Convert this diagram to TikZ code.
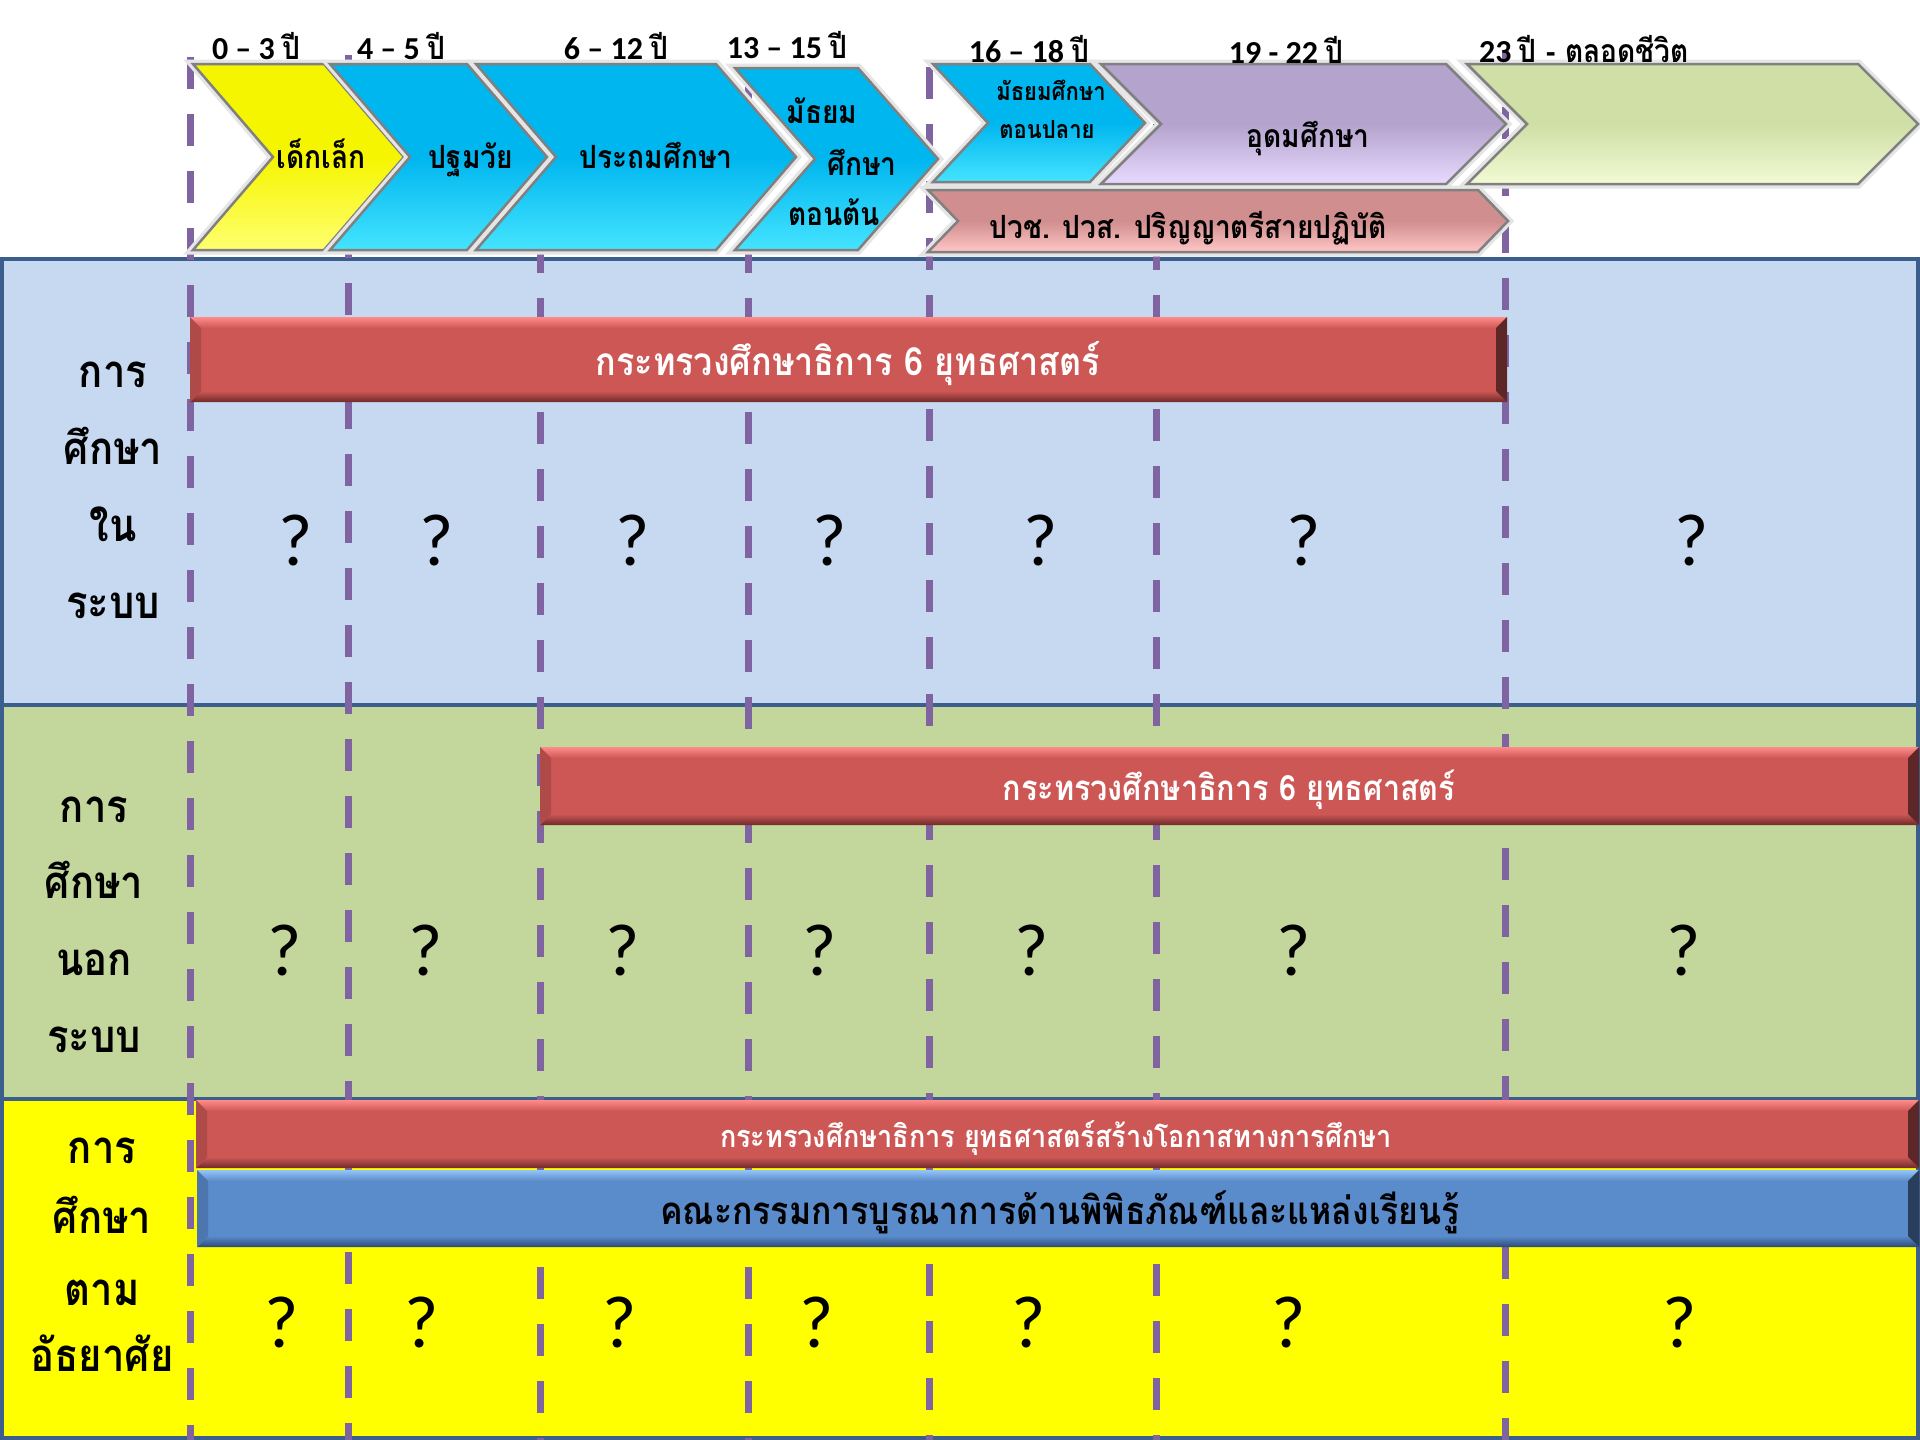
\documentclass[tikz,border=0pt]{standalone}
\usepackage{fontspec}
\setmainfont{Carlito}
\newfontfamily\thai[Script=Thai, FakeStretch=0.88]{Loma}
\definecolor{bandblue}{HTML}{C6D9F1}
\definecolor{bandgreen}{HTML}{C3D69B}
\definecolor{bandyellow}{HTML}{FFFF00}
\definecolor{bandline}{HTML}{3B5E8C}
\definecolor{dashpurple}{HTML}{8064A2}
\definecolor{redbase}{HTML}{CD5755}
\definecolor{redlight}{HTML}{FF8C8A}
\definecolor{reddark}{HTML}{6E2A28}
\definecolor{bluebase}{HTML}{5A8BCB}
\definecolor{bluelight}{HTML}{94C4F7}
\definecolor{bluedark}{HTML}{2A4A78}
\definecolor{cyanbase}{HTML}{00B6EF}
\definecolor{cyanlight}{HTML}{45E4FF}
\definecolor{yelbase}{HTML}{F5F500}
\definecolor{yellight}{HTML}{FFFF70}
\definecolor{purpbase}{HTML}{B4A3CD}
\definecolor{purplight}{HTML}{E8DAFF}
\definecolor{grnbase}{HTML}{CFDFA6}
\definecolor{grnlight}{HTML}{F2FAD4}
\definecolor{pinktop}{HTML}{D18E8E}
\definecolor{pinkbot}{HTML}{FFC6C6}
\newcommand\mybar[7]{%
  \fill[#5] (#1,#2) rectangle (#3,#4);
  \shade[top color=#6, bottom color=#5] (#1,#2) -- (#3,#2) -- ({#3-11},{#2+11}) -- ({#1+11},{#2+11}) -- cycle;
  \shade[top color=#5, bottom color=#7] ({#1+11},{#4-11}) -- ({#3-11},{#4-11}) -- (#3,#4) -- (#1,#4) -- cycle;
  \fill[#5!85!black] (#1,#2) -- ({#1+11},{#2+11}) -- ({#1+11},{#4-11}) -- (#1,#4) -- cycle;
  \fill[#5!45!black] (#3,#2) -- ({#3-11},{#2+11}) -- ({#3-11},{#4-11}) -- (#3,#4) -- cycle;
}
\newcommand\mychev[8]{%
  \coordinate (#1-a) at (#2,#3);
  \coordinate (#1-b) at ({#2+#4},#3);
  \coordinate (#1-c) at ({#2+#4+#6},{#3+#5/2});
  \coordinate (#1-d) at ({#2+#4},{#3+#5});
  \coordinate (#1-e) at (#2,{#3+#5});
  \coordinate (#1-f) at ({#2+#6},{#3+#5/2});
  \draw[line width=9pt, draw=black!10, line join=miter] (#1-a)--(#1-b)--(#1-c)--(#1-d)--(#1-e)--(#1-f)--cycle;
  \shade[top color=#7, bottom color=#8, middle color=#7] (#1-a)--(#1-b)--(#1-c)--(#1-d)--(#1-e)--(#1-f)--cycle;
  \draw[line width=2.5pt, draw=black!50, line join=miter] (#1-a)--(#1-b)--(#1-c)--(#1-d)--(#1-e)--(#1-f)--cycle;
}
\tikzset{
  band/.style={draw=bandline, line width=4pt},
  dashln/.style={draw=dashpurple, line width=7pt, dash pattern=on 32pt off 25pt},
  lab/.style={font=\thai\bfseries\fontsize{45.5}{50}\selectfont, anchor=base, inner sep=0pt},
  qm/.style={font=\fontsize{74}{80}\selectfont, anchor=base, inner sep=0pt},
  age/.style={font=\bfseries\fontsize{32}{38}\selectfont, anchor=base, inner sep=0pt},
  chtxt/.style={font=\thai\bfseries\fontsize{32}{36}\selectfont, anchor=base, inner sep=0pt},
  chsmall/.style={font=\thai\bfseries\fontsize{25}{28}\selectfont, anchor=base, inner sep=0pt},
  bartxt/.style={font=\thai\bfseries\fontsize{#1}{#1}\selectfont, anchor=base, inner sep=0pt},
}
\begin{document}
\begin{tikzpicture}[x=1pt,y=-1pt]
\useasboundingbox (0,0) rectangle (1920,1440);
\fill[white] (0,0) rectangle (1920,1440);
% bands
\draw[band, fill=bandblue] (2,259) rectangle (1918,705);
\draw[band, fill=bandgreen] (2,705) rectangle (1918,1099);
\draw[band, fill=bandyellow] (2,1099) rectangle (1918,1438);
% dashed age lines
\foreach \x/\s in {190/57,348/55,540/70,748/70,929/67,1156/67,1505/50}
  \draw[dashln] (\x,\s) -- (\x,1440);
% bars
\mybar{190}{317}{1507}{402}{redbase}{redlight}{reddark}
\mybar{540}{747}{1919}{825}{redbase}{redlight}{reddark}
\mybar{196}{1100}{1919}{1168}{redbase}{redlight}{reddark}
\mybar{197}{1170}{1919}{1247}{bluebase}{bluelight}{bluedark}
% chevrons
\mychev{c1}{193}{64}{131}{186}{80}{yelbase}{yellight}
\mychev{c2}{330}{64}{137}{186}{80}{cyanbase}{cyanlight}
\mychev{c3}{476}{64}{240}{186}{80}{cyanbase}{cyanlight}
\mychev{c4}{735}{68}{123}{182}{80}{cyanbase}{cyanlight}
\mychev{c5}{933}{64}{157}{118}{55}{cyanbase}{cyanlight}
\mychev{c6}{1101}{64}{345}{120}{60}{purpbase}{purplight}
\mychev{c7}{1467}{64}{391}{120}{60}{grnbase}{grnlight}
\mychev{c8}{928}{190}{550}{62}{30}{pinktop}{pinkbot}
% age labels
\node[age] (a1) at (256,59) {0 – 3 {\thai ปี}};
\node[age] (a2) at (401,59) {4 – 5 {\thai ปี}};
\node[age] (a3) at (616,59) {6 – 12 {\thai ปี}};
\node[age] (a4) at (787,58) {13 – 15 {\thai ปี}};
\node[age] (a5) at (1029,62) {16 – 18 {\thai ปี}};
\node[age] (a6) at (1286,63) {19 - 22 {\thai ปี}};
\node[age] (a7) at (1584,62) {23 {\thai ปี - ตลอดชีวิต}};
% chevron texts
\node[chtxt] (t1) at (321,168) {เด็กเล็ก};
\node[chtxt] (t2) at (471,168) {ปฐมวัย};
\node[chtxt] (t3) at (656,168) {ประถมศึกษา};
\node[chtxt] (t4a) at (822,123) {มัธยม};
\node[chtxt] (t4b) at (862,175) {ศึกษา};
\node[chtxt] (t4c) at (834,225) {ตอนต้น};
\node[chsmall] (t5a) at (1051,100) {มัธยมศึกษา};
\node[chsmall] (t5b) at (1047,138) {ตอนปลาย};
\node[chtxt] (t6) at (1308,147) {อุดมศึกษา};
\node[chtxt] (t8) at (1188,238) {ปวช. ปวส. ปริญญาตรีสายปฏิบัติ};
% bar texts
\node[bartxt=38.8, text=white] (b1) at (848,375) {กระทรวงศึกษาธิการ 6 ยุทธศาสตร์};
\node[bartxt=34.8, text=white] (b2) at (1229,800) {กระทรวงศึกษาธิการ 6 ยุทธศาสตร์};
\node[bartxt=30.7, text=white] (b3) at (1056,1147) {กระทรวงศึกษาธิการ ยุทธศาสตร์สร้างโอกาสทางการศึกษา};
\node[bartxt=38.4, text=black] (b4) at (1060,1224) {คณะกรรมการบูรณาการด้านพิพิธภัณฑ์และแหล่งเรียนรู้};
% left labels
\node[lab] (l1a) at (113,387) {การ};
\node[lab] (l1b) at (113,464) {ศึกษา};
\node[lab] (l1c) at (113,541) {ใน};
\node[lab] (l1d) at (113,618) {ระบบ};
\node[lab] (l2a) at (94,822) {การ};
\node[lab] (l2b) at (94,898) {ศึกษา};
\node[lab] (l2c) at (94,975) {นอก};
\node[lab] (l2d) at (94,1052) {ระบบ};
\node[lab] (l3a) at (102,1163) {การ};
\node[lab] (l3b) at (102,1233) {ศึกษา};
\node[lab] (l3c) at (102,1305) {ตาม};
\node[lab] (l3d) at (102,1371) {อัธยาศัย};
% question marks
\foreach \x [count=\i] in {296,437,633,830,1041,1304,1692}
  \node[qm] (qa\i) at (\x,565) {?};
\foreach \x [count=\i] in {285,426,623,820,1032,1294,1684}
  \node[qm] (qb\i) at (\x,975) {?};
\foreach \x [count=\i] in {282,422,620,817,1029,1289,1680}
  \node[qm] (qc\i) at (\x,1347) {?};
\end{tikzpicture}
\end{document}
